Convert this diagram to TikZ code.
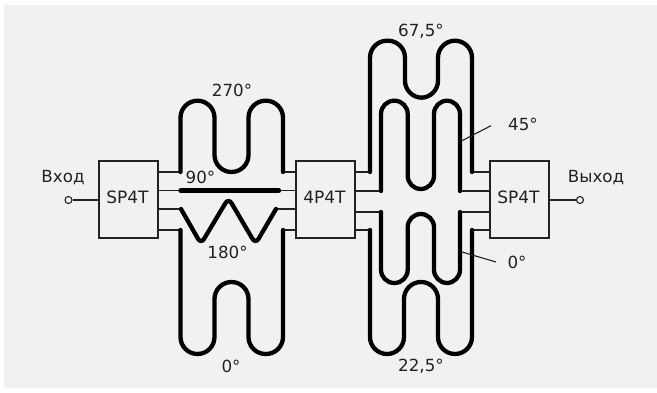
\documentclass[tikz,border=0pt]{standalone}
\usepackage{fontspec}
\setmainfont{DejaVu Sans}
\definecolor{pageGray}{HTML}{F1F1F1}
\definecolor{lineDark}{HTML}{222222}
\begin{document}
\begin{tikzpicture}[
    x=1pt, y=-1pt,
    switchbox/.style={rectangle, draw=lineDark, line width=1.3pt, minimum width=59pt,
                      minimum height=77pt, inner sep=0pt, text height=12pt, text depth=3.5pt,
                      font=\fontsize{17}{18}\selectfont, text=lineDark,
                      execute at end node=\kern2pt},
    label/.style={inner sep=0pt, font=\fontsize{16.7}{18}\selectfont, text=lineDark},
    port/.style={circle, draw=lineDark, line width=1.1pt, minimum size=7pt, inner sep=0pt},
    stub/.style={draw=lineDark, line width=1.1pt},
    trace/.style={draw=black, line width=4.3pt, line cap=round, line join=round},
    meander/.style={trace, rounded corners=17pt},
    innerloop/.style={trace, rounded corners=13.2pt},
  ]
    \useasboundingbox (0,0) rectangle (657,393);
    \fill[pageGray] (4,5) rectangle (657,388);

    % switches
    \node[switchbox] (swIn) at (128.5,199.5) {SP4T};
    \node[switchbox] (swMid) at (325.5,199.5) {4P4T};
    \node[switchbox] (swOut) at (519.5,199.5) {SP4T};

    % input and output
    \node[port] (portIn) at (68.5,200) {};
    \node[port] (portOut) at (580,200) {};
    \draw[stub] (portIn) -- (swIn.west |- portIn);
    \draw[stub] (swOut.east |- portOut) -- (portOut);
    \node[label] (inText) at (63,178) {Вход};
    \node[label] (outText) at (596,178) {Выход};

    % trace ends, first stage
    \coordinate (a1) at (180.5,172);
    \coordinate (a2) at (180.5,190.5);
    \coordinate (a3) at (181,209);
    \coordinate (a4) at (180.5,230);
    \coordinate (b1) at (283,172);
    \coordinate (b2) at (279,190.5);
    \coordinate (b3) at (276,209);
    \coordinate (b4) at (283,230);

    % trace ends, second stage
    \coordinate (c1) at (370,172);
    \coordinate (c2) at (381,191);
    \coordinate (c3) at (381,212);
    \coordinate (c4) at (370,230);
    \coordinate (d1) at (472,172);
    \coordinate (d2) at (460,191);
    \coordinate (d3) at (460,212);
    \coordinate (d4) at (472,230);

    % stubs
    \foreach \n in {1,2,3,4} {
      \draw[stub] (swIn.east |- a\n) -- (a\n);
      \draw[stub] (b\n) -- (swMid.west |- b\n);
      \draw[stub] (swMid.east |- c\n) -- (c\n);
      \draw[stub] (d\n) -- (swOut.west |- d\n);
    }

    % first stage lines
    \draw[meander] (a1) -- (180.5,100.7) -- (214.5,100.7) -- (214.5,172) -- (248.5,172)
      -- (248.5,100.7) -- (283,100.7) -- (b1);
    \draw[trace] (a2) -- (b2);
    \draw[trace, rounded corners=6pt] (a3) -- (201,244) -- (228.5,198) -- (255.5,244) -- (b3);
    \draw[meander] (a4) -- (180.5,354) -- (214.5,354) -- (214.5,282) -- (248.5,282)
      -- (248.5,354) -- (283,354) -- (b4);

    % second stage lines
    \draw[meander] (c1) -- (370,40.7) -- (405,40.7) -- (405,97.7) -- (438,97.7)
      -- (438,40.7) -- (472,40.7) -- (d1);
    \draw[innerloop] (c2) -- (381,100.7) -- (407.7,100.7) -- (407.7,189)
      -- (434,189) -- (434,100.7) -- (460,100.7) -- (d2);
    \draw[innerloop] (c3) -- (381,283) -- (407.7,283) -- (407.7,214)
      -- (434,214) -- (434,283) -- (460,283) -- (d3);
    \draw[meander] (c4) -- (370,354) -- (404,354) -- (404,282) -- (438,282)
      -- (438,354) -- (472,354) -- (d4);

    % phase labels
    \node[label] (ph270) at (232,90) {270°};
    \node[label] (ph90) at (200.5,177) {90°};
    \node[label] (ph180) at (227.5,252) {180°};
    \node[label] (ph0a) at (231,366) {0°};
    \node[label] (ph675) at (421,31) {67,5°};
    \node[label] (ph225) at (421,366) {22,5°};
    \node[label] (ph45) at (523,124) {45°};
    \node[label] (ph0b) at (517,262) {0°};

    % leaders
    \coordinate (lead45) at (462,140.7);
    \coordinate (lead45end) at (491,125.7);
    \coordinate (lead0) at (462,252);
    \coordinate (lead0end) at (496,262);
    \draw[stub] (lead45) -- (lead45end);
    \draw[stub] (lead0) -- (lead0end);
  \end{tikzpicture}
\end{document}
